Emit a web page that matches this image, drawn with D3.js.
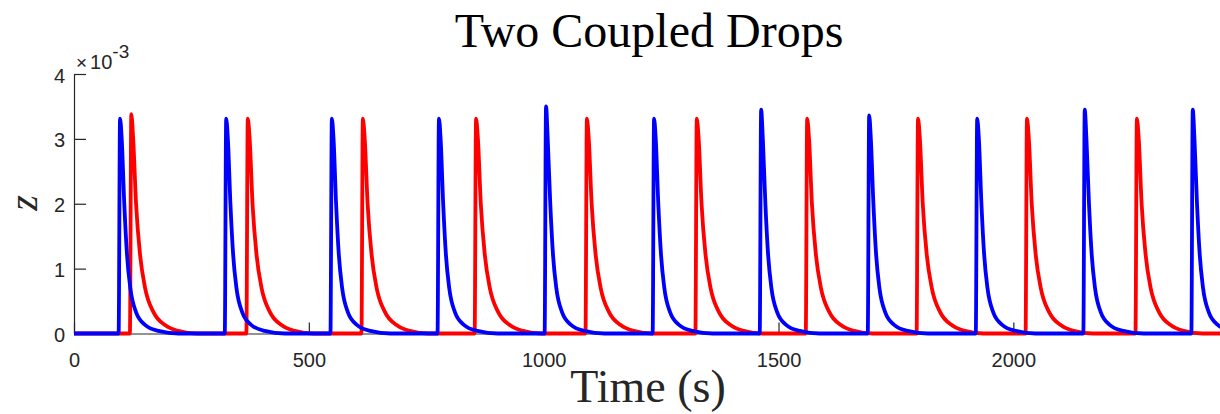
<!DOCTYPE html>
<html>
<head>
<meta charset="utf-8">
<script src="https://cdn.jsdelivr.net/npm/d3@7"></script>
<style>
  body { margin: 0; background: #fff; }
  svg { display: block; }
</style>
</head>
<body>
<svg id="chart" width="1220" height="414"></svg>
<script>
// z values in units of 1e-3
const xTicks = [0, 500, 1000, 1500, 2000];
const yTicks = [0, 1, 2, 3, 4];

// spike peak times (s) and peak heights
const blueTimes = [98, 324, 549, 777, 1005, 1235, 1463, 1693, 1923, 2152, 2382];
const bluePeaks = [3.31, 3.31, 3.31, 3.31, 3.5, 3.31, 3.45, 3.36, 3.31, 3.45, 3.45];
const redTimes = [122, 370, 615, 856, 1092, 1326, 1561, 1797, 2029, 2263];
const redPeaks = [3.38, 3.31, 3.31, 3.31, 3.31, 3.31, 3.31, 3.31, 3.31, 3.31];

// decay after a peak: seconds after peak, z value
const blueDecayT = [3.6, 9.1, 14.9, 21.9, 34, 53.8, 82, 125];
const blueDecayZ = [3.0, 1.99, 1.21, 0.70, 0.33, 0.13, 0.04, 0];
const redDecayT = [4, 10.2, 18.7, 29.4, 47.2, 71.9, 100, 140];
const redDecayZ = [3.0, 1.99, 1.21, 0.70, 0.33, 0.13, 0.04, 0];

const tEnd = 2440;
const riseTime = 3;

const svg = d3.select("#chart");
const mLeft = 74, mRight = 1220, mTop = 74, mBottom = 333.5;
const axisColor = "#262626";

const x = d3.scaleLinear().domain([0, tEnd]).range([mLeft, mRight]);
const y = d3.scaleLinear().domain([0, 4]).range([mBottom, mTop]);

function buildSeries(times, peaks, decT, decZ) {
  const pts = [[0, 0]];
  times.forEach((t, i) => {
    pts.push([t - riseTime, 0]);
    pts.push([t, peaks[i]]);
    decT.forEach((dt, j) => pts.push([t + dt, decZ[j]]));
  });
  pts.push([tEnd + 200, 0]);
  return pts;
}

svg.append("defs").append("clipPath").attr("id", "clip")
  .append("rect")
  .attr("x", mLeft - 3).attr("y", 0)
  .attr("width", mRight - mLeft + 3).attr("height", mBottom + 10);

// axes
const xAxis = svg.append("g")
  .attr("transform", "translate(0," + mBottom + ")")
  .call(d3.axisBottom(x).tickValues(xTicks).tickFormat(d3.format("d"))
    .tickSizeInner(-11).tickSizeOuter(0).tickPadding(19));
const yAxis = svg.append("g")
  .attr("transform", "translate(" + mLeft + ",0)")
  .call(d3.axisLeft(y).tickValues(yTicks).tickFormat(d3.format("d"))
    .tickSizeInner(-12).tickSizeOuter(0).tickPadding(9));

[xAxis, yAxis].forEach(g => {
  g.select(".domain").attr("stroke", axisColor).attr("stroke-width", 1.2);
  g.selectAll(".tick line").attr("stroke", axisColor).attr("stroke-width", 1.2);
  g.selectAll(".tick text")
    .attr("fill", axisColor)
    .style("font-family", "'Liberation Sans', Arial, sans-serif")
    .style("font-size", "20px");
});
yAxis.selectAll(".tick text").attr("dy", "0.4em");

// lines
const line = d3.line()
  .x(d => x(d[0]))
  .y(d => y(d[1]))
  .curve(d3.curveMonotoneX);

const plot = svg.append("g").attr("clip-path", "url(#clip)");
plot.append("path")
  .datum(buildSeries(redTimes, redPeaks, redDecayT, redDecayZ))
  .attr("fill", "none")
  .attr("stroke", "#ff0000")
  .attr("stroke-width", 3.8)
  .attr("stroke-linejoin", "round")
  .attr("d", line);
plot.append("path")
  .datum(buildSeries(blueTimes, bluePeaks, blueDecayT, blueDecayZ))
  .attr("fill", "none")
  .attr("stroke", "#0000ff")
  .attr("stroke-width", 3.8)
  .attr("stroke-linejoin", "round")
  .attr("d", line);

// exponent label
const expo = svg.append("text")
  .attr("x", mLeft + 2).attr("y", 69)
  .attr("fill", axisColor)
  .style("font-family", "'Liberation Sans', Arial, sans-serif")
  .style("font-size", "20px");
expo.append("tspan").style("font-size", "19px").text("\u00d7");
expo.append("tspan").attr("dx", 3).text("10");
expo.append("tspan").attr("dy", -11).style("font-size", "19px").text("-3");

// title and labels
svg.append("text")
  .attr("x", 649).attr("y", 47)
  .attr("text-anchor", "middle")
  .attr("fill", "#000")
  .style("font-family", "'Liberation Serif', 'Times New Roman', serif")
  .style("font-size", "48px")
  .text("Two Coupled Drops");

svg.append("text")
  .attr("x", 648).attr("y", 402)
  .attr("text-anchor", "middle")
  .attr("fill", axisColor)
  .style("font-family", "'Liberation Serif', 'Times New Roman', serif")
  .style("font-size", "46px")
  .text("Time (s)");

svg.append("text")
  .attr("transform", "translate(37,203) rotate(-90)")
  .attr("text-anchor", "middle")
  .attr("fill", axisColor)
  .style("font-family", "'Liberation Serif', 'Times New Roman', serif")
  .style("font-style", "italic")
  .style("font-size", "40px")
  .text("z");
</script>
</body>
</html>
